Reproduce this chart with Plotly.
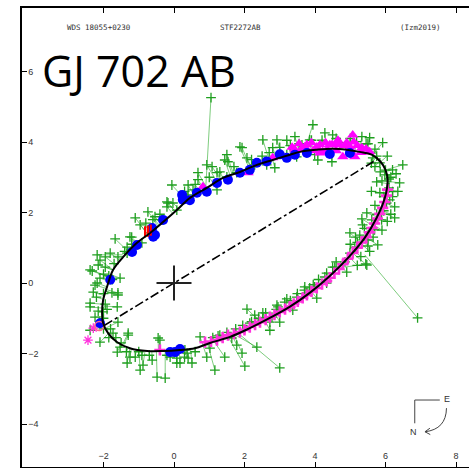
import numpy as np
import plotly.graph_objects as go

# ---------------- data (arcsec) ----------------
orbit_x = [-2.01, -2.04, -2.01, -1.87, -1.61, -1.25, -0.76, -0.31, 0.17, 0.59, 1.02, 1.59, 2.15, 2.72,
           3.29, 3.85, 4.42, 4.99, 5.41, 5.75, 5.98, 6.06, 6.00, 5.86, 5.61, 5.27, 4.90, 4.50,
           4.05, 3.57, 3.29, 2.80, 2.35, 1.87, 1.39, 0.93, 0.45, 0.08, -0.31, -0.68, -1.05, -1.44,
           -1.73, -1.90, -2.01]
orbit_y = [-0.48, -0.85, -1.14, -1.42, -1.68, -1.85, -1.93, -1.93, -1.90, -1.85, -1.70, -1.53, -1.28, -0.99,
           -0.67, -0.28, 0.20, 0.77, 1.28, 1.85, 2.41, 2.93, 3.21, 3.44, 3.64, 3.72, 3.78, 3.81,
           3.78, 3.72, 3.64, 3.49, 3.35, 3.15, 2.98, 2.70, 2.41, 2.07, 1.73, 1.42, 1.14, 0.74,
           0.37, -0.11, -0.48]

apsides_x = [-1.97, 5.72]
apsides_y = [-1.20, 3.48]

obs_x = [-0.17, -0.74, -0.54, -1.10, -0.96, -1.25, -1.67, -1.33, -1.81, -1.59, -2.10, -2.32, -1.95, -1.53,
         -2.18, -2.29, -1.76, -2.38, -1.61, -2.24, -2.38, -1.73, -2.10, -1.30, -1.53, -1.25, -0.91, -0.62,
         -0.45, -0.11, 0.17, 0.37, -0.88, -0.20, -1.95, -2.15, -2.38, -2.10, -1.59, -1.33, -0.91, -0.34,
         0.08, 0.40, -1.33, -1.61, -0.40, 0.08, 0.40, -1.30, -2.38, -2.01, -2.24, -1.59, -1.59,
         -1.85, -2.00, -1.95, -1.80, -1.50, -1.00, -1.40, -1.20,
         -1.90, -2.20, -2.15, -2.00, -1.70, -1.75, -2.00, -1.20, -0.80, -0.40, -0.60, -1.35, -1.10,
         -0.70, -0.20, 0.30, 0.60, -1.65, -1.85, -2.00,
         0.08, 0.31, 0.51, 0.74, 0.93, 1.02, 1.78, 1.93, 1.30, 2.29, 2.72, 2.52, 3.00, 3.14, 3.48,
         3.37, 3.85, 4.05, 4.33, 2.95, 2.78, 2.15, 1.64, 2.52, 2.92, 3.71, 4.33, 4.56, 2.72,
         3.50, 3.20, 2.90, 2.60, 2.40, 2.20, 1.95, 1.75, 1.50, 1.25, 1.10, 3.70, 4.10, 4.60, 3.95, 3.30,
         3.99, 3.77, 4.28, 4.50, 4.90, 5.47, 4.99, 5.13, 4.99, 5.27, 5.78, 5.47, 5.33, 5.61, 6.26,
         6.03, 6.26, 6.20, 6.40, 5.75, 5.98, 6.20, 6.49, 5.84, 5.64, 5.92, 5.55, 5.33, 5.18, 4.70,
         4.50, 4.48, 4.08, 4.28, 3.99, 3.85, 3.63, 5.84, 6.12, 5.89, 5.69, 5.50, 5.90, 6.10, 5.95,
         5.70, 5.75, 6.00, 6.15, 5.70, 5.40, 5.20,
         5.55, 5.30, 5.65, 5.90, 6.05, 5.95, 6.20, 6.10, 6.30, 5.85, 5.60, 5.75, 5.45, 6.05, 6.35,
         5.60, 6.15, 5.20, 4.85, 5.00, 5.15, 5.35, 5.50,
         -0.06, 0.40, 0.68, 0.93, 1.08, 1.22, 1.44, 1.53, 1.87, 2.07, 1.78, 2.52, 2.92, 3.43, 3.20,
         2.86, 2.63, 2.29, -0.03, -0.20, 0.37, 0.54, 0.68, 1.50, 1.22, 2.80, 3.48, 3.77, 1.93, 1.50,
         2.50, 2.70, 3.00, 3.30, 3.55, 3.20, 2.20, 1.70, 1.30, 1.00, 0.60, 0.30, 3.90, 4.20, 4.60,
         5.00, 5.50, 5.70]
obs_y = [2.27, 2.02, 1.88, 1.85, 1.65, 1.31, 1.25, 1.02, 0.85, 0.74, 0.65, 0.34, 0.45, 0.14,
         0.00, -0.26, -0.28, -0.68, -0.68, -0.97, -1.34, -1.42, -1.68, -1.48, -1.82, -2.10, -2.05, -2.19,
         -1.56, -2.10, -2.27, -1.99, -2.33, 2.30, 0.74, 0.51, 0.37, 0.14, -0.28, 0.85, 1.14, 1.79,
         2.07, 2.50, -2.27, -1.96, -1.62, -2.27, -2.13, -1.42, -0.57, -0.82, -0.06, -0.34, -1.11,
         0.20, -0.30, -0.60, -1.30, -1.70, -1.95, 0.90, 1.10,
         -0.75, -0.40, -0.80, -1.00, 0.55, 0.10, 0.25, 1.30, 1.70, 1.95, 1.80, -1.95, -2.10,
         -2.05, -2.05, -2.10, -1.95, -1.55, -1.55, -1.30,
         -2.13, -1.90, -2.27, -1.53, -2.10, -1.85, -1.76, -1.99, -1.48, -0.91, -1.34, -0.99, -1.11, -0.54, -0.40,
         -0.77, -0.14, -0.43, 0.00, -0.68, -0.97, -1.14, -1.56, -0.85, -0.63, -0.11, 0.28, 0.45, -1.11,
         -0.30, -0.45, -0.75, -0.85, -1.00, -1.10, -1.20, -1.30, -1.40, -1.50, -1.55, -0.20, 0.10, 0.60, -0.05, -0.50,
         -0.11, -0.28, 0.17, 0.45, 0.31, 0.51, 0.85, 1.02, 1.42, 1.36, 1.08, 1.99, 1.82, 1.79, 1.85,
         2.27, 2.16, 2.59, 2.84, 2.87, 3.07, 3.21, 3.35, 3.41, 3.55, 3.98, 4.12, 4.15, 4.01, 3.98,
         4.20, 3.44, 3.49, 4.26, 3.64, 4.06, 3.92, 2.56, 2.36, 1.79, 1.51, 1.22, 2.90, 2.70, 2.45,
         2.20, 1.95, 3.20, 3.00, 3.30, 1.55, 1.15,
         0.90, 0.75, 1.30, 1.50, 1.75, 2.05, 2.45, 2.95, 3.10, 3.15, 3.40, 3.60, 3.95, 3.60, 2.60,
         2.60, 1.95, 0.50, 0.60, 1.10, 1.30, 1.65, 1.05,
         2.78, 2.78, 2.93, 3.35, 3.30, 3.13, 3.49, 3.44, 3.86, 3.55, 3.13, 4.06, 4.06, 4.15, 3.64,
         3.27, 3.35, 3.35, 2.27, 2.16, 2.44, 2.64, 3.13, 3.01, 2.64, 3.84, 3.58, 3.78, 3.84, 3.64,
         3.60, 3.70, 3.85, 3.90, 3.95, 4.05, 3.50, 3.30, 3.15, 3.00, 2.80, 2.60, 4.05, 4.05, 4.10,
         4.10, 3.95, 3.80]

# observations with long residuals: measured position and predicted position
out_x = [1.05, 6.91, 5.44, 3.00, 2.01, 1.16, 1.44, 2.35, -0.48, -0.25, -0.96, 2.07, -2.18, 3.94]
out_y = [5.26, -0.99, 0.54, -2.41, -2.36, -2.47, -2.10, -1.82, -2.67, -2.70, -2.47, -0.74, 0.80, 4.49]
out_fx = [0.90, 5.41, 4.85, 1.85, 1.55, 0.95, 1.15, 1.75, -0.50, -0.25, -1.00, 2.45, -1.45, 3.70]
out_fy = [2.70, 0.80, 0.45, -1.45, -1.55, -1.72, -1.68, -1.48, -1.93, -1.93, -1.90, -1.10, 0.80, 3.75]

mag_x = [0.88, 1.05, 1.22, 1.38, 1.53, 1.70, 1.87, 2.00, 2.15, 2.30, 2.44, 2.60, 2.72, 2.85, 3.00,
         3.15, 3.29, 3.40, 3.51, 3.65, 3.77, 3.90, 4.05, 4.20, 4.33, 4.42, 4.55, 4.68, 4.79, 4.93,
         5.07, 5.20, 5.33, 5.45, 5.55, 5.62, 5.69, 5.77, 5.84, 5.92, 5.98, 6.03, 6.06, -0.40]
mag_y = [-1.68, -1.66, -1.62, -1.55, -1.48, -1.44, -1.39, -1.33, -1.25, -1.18, -1.11, -1.04, -0.97, -0.90, -0.82,
         -0.74, -0.67, -0.59, -0.52, -0.42, -0.34, -0.24, -0.14, -0.03, 0.06, 0.15, 0.27, 0.40, 0.53, 0.69,
         0.85, 1.00, 1.15, 1.30, 1.44, 1.56, 1.69, 1.83, 1.96, 2.13, 2.30, 2.48, 2.65, -1.90]

star_x = [-2.29, -2.44]
star_y = [-1.28, -1.62]

tri_x = [3.77, 4.14, 4.48, 4.70, 4.99, 5.07, 5.33, 5.55, 4.14, 4.79, 5.13, 4.42, 4.22, 4.90, 4.05,
         2.10, 0.82, 3.43, 3.71, 2.80,
         3.35, 3.55, 3.90, 4.30, 4.60, 4.85, 5.20, 5.45, 3.95, 4.35, 4.60, 5.00, 3.60, 5.30, 5.10, 4.65]
tri_y = [3.92, 3.92, 3.92, 3.92, 3.86, 4.20, 3.84, 3.72, 3.69, 3.58, 3.58, 3.92, 3.72, 3.98, 3.86,
         3.13, 2.73, 3.78, 3.86, 3.55,
         3.85, 3.95, 3.98, 3.98, 3.95, 3.90, 3.90, 3.80, 3.75, 3.78, 3.75, 3.72, 3.78, 3.70, 4.00, 4.05]

blue_x = [-2.10, -1.81, -1.19, -1.05, -0.59, -0.54, -0.62, -0.31, 0.23, 0.25, 0.45, 0.65, 0.93, 1.22,
          1.53, 1.87, 2.15, 2.35, 2.63, 3.00, 3.20, 3.43, 3.77, 4.42, 4.99, -0.11, 0.03, 0.17]
blue_y = [-1.14, 0.09, 0.88, 1.08, 1.31, 1.36, 1.56, 1.79, 2.50, 2.36, 2.35, 2.56, 2.59, 2.84,
          2.93, 3.13, 3.21, 3.41, 3.45, 3.65, 3.55, 3.64, 3.69, 3.66, 3.69, -1.96, -1.96, -1.87]

open_blue_x = [-2.12]
open_blue_y = [-1.22]

red_x = [-0.82, -0.74, -0.66]
red_y = [1.45, 1.47, 1.50]

primary_x = [0.0]
primary_y = [0.0]

x_ticks = [-4, -2, 0, 2, 4, 6, 8]
y_ticks = [-4, -2, 0, 2, 4, 6]

# ---------------- residual lines ----------------
ox = np.array(orbit_x, dtype=float)
oy = np.array(orbit_y, dtype=float)
t = np.linspace(0, 1, 25)
dense_x = np.concatenate([ox[i] + (ox[i + 1] - ox[i]) * t for i in range(len(ox) - 1)])
dense_y = np.concatenate([oy[i] + (oy[i + 1] - oy[i]) * t for i in range(len(oy) - 1)])

res_x, res_y = [], []
for px, py in zip(obs_x, obs_y):
    k = int(np.argmin((dense_x - px) ** 2 + (dense_y - py) ** 2))
    res_x += [px, float(dense_x[k]), None]
    res_y += [py, float(dense_y[k]), None]
for px, py, fx, fy in zip(out_x, out_y, out_fx, out_fy):
    res_x += [px, fx, None]
    res_y += [py, fy, None]

GREEN = "#1f9f1f"
fig = go.Figure()
fig.add_trace(go.Scatter(x=res_x, y=res_y, mode="lines",
                         line=dict(color="rgba(40,170,40,0.6)", width=1), hoverinfo="skip"))
fig.add_trace(go.Scatter(x=list(obs_x) + list(out_x), y=list(obs_y) + list(out_y), mode="markers",
                         marker=dict(symbol="cross-thin", size=7, line=dict(color=GREEN, width=1.3))))
fig.add_trace(go.Scatter(x=mag_x, y=mag_y, mode="markers",
                         marker=dict(symbol="cross-thin", size=8, line=dict(color="#ff33dd", width=2.6))))
fig.add_trace(go.Scatter(x=star_x, y=star_y, mode="markers",
                         marker=dict(symbol="asterisk", size=8, line=dict(color="#ff33dd", width=1.3))))
fig.add_trace(go.Scatter(x=tri_x, y=tri_y, mode="markers",
                         marker=dict(symbol="triangle-up", size=10, color="#ff00ff", line=dict(width=0))))
fig.add_trace(go.Scatter(x=blue_x, y=blue_y, mode="markers",
                         marker=dict(symbol="circle", size=10, color="#0000ff", line=dict(width=0))))
fig.add_trace(go.Scatter(x=open_blue_x, y=open_blue_y, mode="markers",
                         marker=dict(symbol="circle-open", size=9, line=dict(color="#0000ff", width=1.5))))
fig.add_trace(go.Scatter(x=red_x, y=red_y, mode="markers",
                         marker=dict(symbol="line-ns", size=8, line=dict(color="#ff0000", width=2.2))))
fig.add_trace(go.Scatter(x=orbit_x, y=orbit_y, mode="lines",
                         line=dict(color="black", width=2, shape="spline", smoothing=1.0)))
fig.add_trace(go.Scatter(x=apsides_x, y=apsides_y, mode="lines",
                         line=dict(color="black", width=1.6, dash="dashdot")))
fig.add_trace(go.Scatter(x=primary_x, y=primary_y, mode="markers",
                         marker=dict(symbol="cross-thin", size=25, line=dict(color="#222222", width=2))))

# ---------------- layout ----------------
W, H = 469, 468
ml, mr, mt, mb = 22, 0, 8, 1
pw, ph = W - ml - mr, H - mt - mb
ppu = 35.25
x0 = -(174 - ml) / ppu
y1 = (283 - mt) / ppu

fig.update_layout(
    width=W, height=H, margin=dict(l=ml, r=mr, t=mt, b=mb),
    paper_bgcolor="white", plot_bgcolor="white", showlegend=False,
    xaxis=dict(range=[x0, x0 + pw / ppu], tickvals=x_ticks, ticks="inside", ticklen=5,
               ticklabelposition="inside", showline=True, linecolor="black", linewidth=1.5,
               mirror="ticks", showgrid=False, zeroline=False, tickcolor="black",
               tickfont=dict(family="Liberation Sans", size=9, color="#333")),
    yaxis=dict(range=[y1 - ph / ppu, y1], tickvals=y_ticks, ticks="inside", ticklen=5,
               ticklabelposition="inside", showline=True, linecolor="black", linewidth=2,
               mirror=False, showgrid=False, zeroline=False, tickcolor="black",
               tickfont=dict(family="Liberation Sans", size=9, color="#333")),
)

def px2paper(px, py):
    return (px - ml) / pw, (H - mb - py) / ph

hdr_font = dict(family="DejaVu Sans Mono", size=7.5, color="#333")
for txt, cx in [("WDS 18055+0230", 99), ("STF2272AB", 240), ("(Izm2019)", 420)]:
    xx, yy = px2paper(cx, 27)
    fig.add_annotation(text=txt, x=xx, y=yy, xref="paper", yref="paper", showarrow=False,
                       xanchor="center", yanchor="middle", font=hdr_font)

tx, ty = px2paper(40, 71)
fig.add_annotation(text="GJ 702 AB", x=tx, y=ty, xref="paper", yref="paper", showarrow=False,
                   xanchor="left", yanchor="middle",
                   font=dict(family="Open Sans", size=43, color="black"))

# compass (East / North)
cl = dict(color="#444", width=1)
fig.add_shape(type="line", x0=6.83, y0=-3.32, x1=7.54, y1=-3.32, line=cl)
fig.add_shape(type="line", x0=6.83, y0=-3.32, x1=6.83, y1=-3.98, line=cl)
fig.add_shape(type="path", path="M 7.73,-3.55 Q 7.72,-4.15 7.12,-4.22", line=cl)
fig.add_shape(type="path", path="M 7.26,-4.12 L 7.12,-4.22 L 7.27,-4.30", line=cl)
fig.add_annotation(text="E", x=7.75, y=-3.30, showarrow=False, font=dict(family="Liberation Sans", size=9, color="#333"))
fig.add_annotation(text="N", x=6.80, y=-4.24, showarrow=False, font=dict(family="Liberation Sans", size=9, color="#333"))

fig.write_html("out.html")
